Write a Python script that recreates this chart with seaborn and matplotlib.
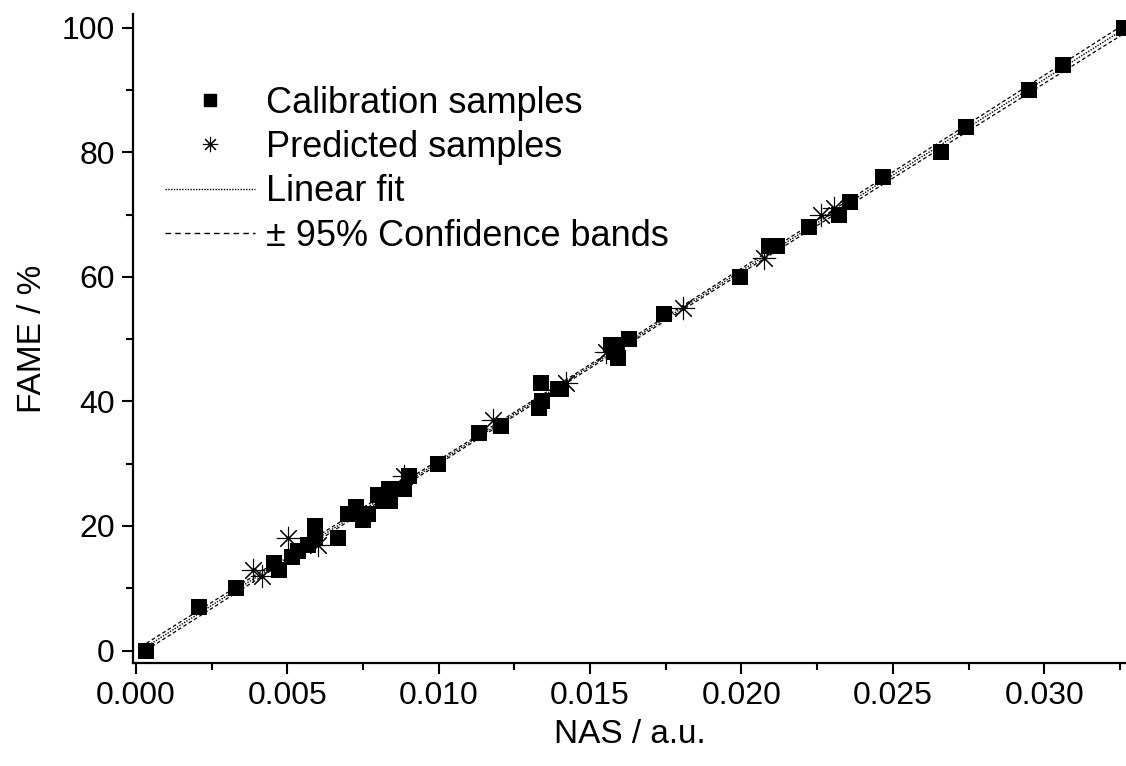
import numpy as np
import pandas as pd
import matplotlib
matplotlib.use("Agg")
import matplotlib.pyplot as plt
from matplotlib.lines import Line2D
from matplotlib.ticker import MultipleLocator
import seaborn as sns

# calibration samples
cal_x = [0.00035, 0.00207, 0.00329, 0.00455, 0.00471, 0.00517, 0.00534, 0.00567,
         0.00593, 0.00593, 0.00666, 0.00699, 0.00726, 0.00749, 0.00765, 0.00798,
         0.00815, 0.00838, 0.00835, 0.00884, 0.00901, 0.00997, 0.01132, 0.01205,
         0.01337, 0.01340, 0.01332, 0.01393, 0.01403, 0.01569, 0.01579, 0.01592,
         0.01590, 0.01628, 0.01744, 0.01995, 0.02091, 0.02117, 0.02223, 0.02322,
         0.02359, 0.02468, 0.02660, 0.02743, 0.02951, 0.03063, 0.03264]
cal_y = [0, 7, 10, 14, 13, 15, 16, 17,
         20, 18, 18, 22, 23, 21, 22, 25,
         24, 24, 26, 26, 28, 30, 35, 36,
         43, 40, 39, 42, 42, 49, 48, 47,
         49, 50, 54, 60, 65, 65, 68, 70,
         72, 76, 80, 84, 90, 94, 100]

# predicted samples
pred_x = [0.00388, 0.00418, 0.00501, 0.00603, 0.00884, 0.01178, 0.01420,
          0.01552, 0.01807, 0.02074, 0.02263, 0.02306]
pred_y = [13, 12, 18, 17, 28, 37, 43, 48, 55, 63, 70, 71]

x_ticks = [0.000, 0.005, 0.010, 0.015, 0.020, 0.025, 0.030]
y_ticks = [0, 20, 40, 60, 80, 100]

sns.set_style("ticks")
plt.rcParams["font.family"] = ["Liberation Sans", "DejaVu Sans"]
plt.rcParams["text.color"] = "black"
plt.rcParams["axes.labelcolor"] = "black"
plt.rcParams["xtick.color"] = "black"
plt.rcParams["ytick.color"] = "black"

cal = pd.DataFrame({"x": cal_x, "y": cal_y})
pred = pd.DataFrame({"x": pred_x, "y": pred_y})

# linear fit + 95% confidence bands
xa = np.array(cal_x)
ya = np.array(cal_y, dtype=float)
n = len(xa)
slope, icpt = np.polyfit(xa, ya, 1)
resid = ya - (slope * xa + icpt)
s = np.sqrt(np.sum(resid ** 2) / (n - 2))
t = 2.014
xf = np.linspace(xa.min(), xa.max(), 200)
yf = slope * xf + icpt
se = s * np.sqrt(1.0 / n + (xf - xa.mean()) ** 2 / np.sum((xa - xa.mean()) ** 2))
fit = pd.DataFrame({"x": xf, "fit": yf, "lo": yf - t * se, "hi": yf + t * se})

fig = plt.figure(figsize=(11.26, 7.66), dpi=100)
ax = fig.add_axes([0.118, 0.1345, 0.882, 0.847])

sns.lineplot(data=fit, x="x", y="fit", ax=ax, color="black", lw=1.0,
             linestyle=(0, (1, 1)))
sns.lineplot(data=fit, x="x", y="lo", ax=ax, color="black", lw=0.9,
             linestyle=(0, (3, 2)))
sns.lineplot(data=fit, x="x", y="hi", ax=ax, color="black", lw=0.9,
             linestyle=(0, (3, 2)))
sns.scatterplot(data=cal, x="x", y="y", ax=ax, marker="s", s=120,
                color="black", edgecolor="black", linewidth=0, zorder=3,
                clip_on=False)
sns.scatterplot(data=pred, x="x", y="y", ax=ax, marker=(8, 2, 0), s=260,
                color="black", linewidth=0.8, zorder=4)

ax.set_xlim(-0.0001, 0.0327)
ax.set_ylim(-2, 102.2)
ax.set_xticks(x_ticks)
ax.set_xticklabels([f"{v:.3f}" for v in x_ticks])
ax.set_yticks(y_ticks)
ax.xaxis.set_minor_locator(MultipleLocator(0.0025))
ax.yaxis.set_minor_locator(MultipleLocator(10))
ax.tick_params(axis="both", which="major", direction="out", length=8,
               width=1.5, labelsize=23, color="black", labelcolor="black", pad=5)
ax.tick_params(axis="both", which="minor", direction="out", length=5,
               width=1.5, color="black")
for sp in ["top", "right"]:
    ax.spines[sp].set_visible(False)
for sp in ["left", "bottom"]:
    ax.spines[sp].set_linewidth(1.6)
    ax.spines[sp].set_color("black")

ax.set_xlabel("NAS / a.u.", fontsize=24, labelpad=6, color="black")
ax.set_ylabel("FAME / %", fontsize=24, labelpad=10, color="black")

handles = [
    Line2D([], [], marker="s", color="black", ls="none", markersize=9),
    Line2D([], [], marker=(8, 2, 0), color="black", ls="none", markersize=11,
           markeredgewidth=0.8),
    Line2D([], [], color="black", lw=1.0, linestyle=(0, (1, 1))),
    Line2D([], [], color="black", lw=1.0, linestyle=(0, (4, 3))),
]
labels = ["Calibration samples", "Predicted samples", "Linear fit",
          "\u00b1 95% Confidence bands"]
ax.legend(handles, labels, loc="upper left", bbox_to_anchor=(0.032, 0.89),
          frameon=False, fontsize=26, handlelength=2.5, handletextpad=0.3,
          labelspacing=0.26, borderpad=0, borderaxespad=0, labelcolor="black")

fig.savefig("out.png", dpi=100)
